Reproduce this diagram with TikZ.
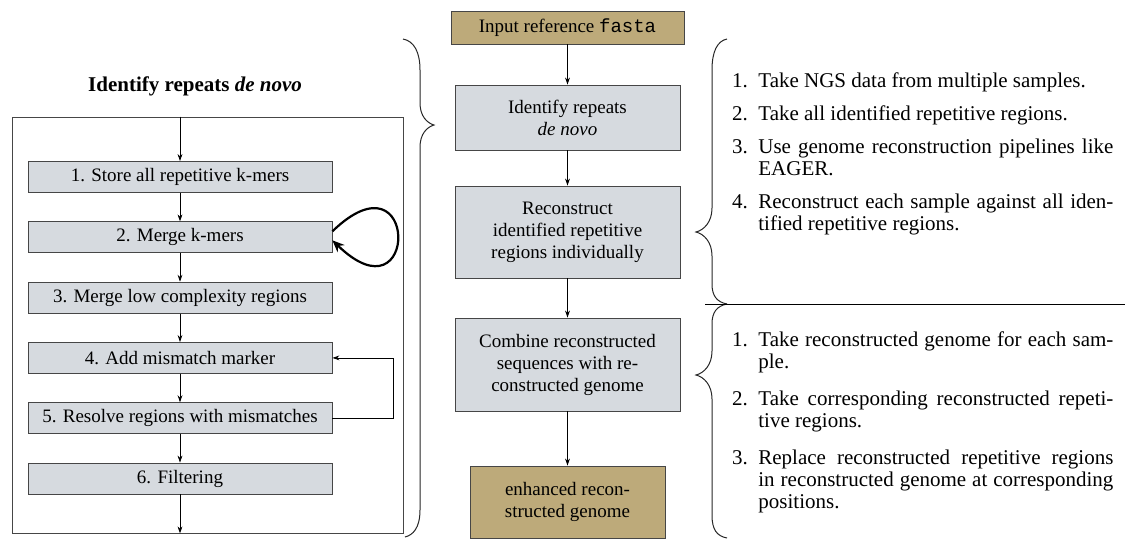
\documentclass[tikz,border=0pt]{standalone}
\usepackage{fontspec}
\setmainfont{Liberation Serif}
\setmonofont{Liberation Mono}
\usepackage{enumitem}
\usetikzlibrary{arrows.meta,calc}
\definecolor{InputClr}{RGB}{189,170,122}
\definecolor{StepClr}{RGB}{214,218,223}
\definecolor{EdgeClr}{RGB}{70,70,70}

\tikzset{
  stepbox/.style={draw=EdgeClr,fill=StepClr,align=center,inner sep=2pt,
    font=\fontsize{9.5}{11}\selectfont},
  mainbox/.style={stepbox,minimum width=112.5pt},
  inbox/.style={mainbox,fill=InputClr},
  substep/.style={stepbox,minimum width=152pt,minimum height=15.5pt},
  flow/.style={-{Stealth[length=3.5pt,width=2.4pt]}},
  brace/.style={draw=black!85,line width=0.5pt},
  steplist/.style={inner sep=0pt,text width=190.5pt,align=justify,
    font=\fontsize{10.5}{11}\selectfont},
}

\begin{document}
\begin{tikzpicture}[x=0.5pt,y=-0.5pt]
\useasboundingbox (0,0) rectangle (1125,538);

% Main pipeline in the middle.
\node[inbox,minimum width=116.5pt,minimum height=16.5pt] (input) at (567.5,27.5) {Input reference \texttt{fasta}};
\node[mainbox,minimum height=32.5pt] (ident) at (567.5,117.5) {Identify repeats\\\emph{de novo}};
\node[mainbox,minimum height=46pt] (recon) at (567.5,232) {Reconstruct\\identified repetitive\\regions individually};
\node[mainbox,minimum height=46.5pt] (comb) at (567.5,364.5) {Combine reconstructed\\sequences with re-\\constructed genome};
\node[inbox,minimum width=97.5pt,minimum height=36pt] (enh) at (567.5,502) {enhanced recon-\\structed genome};

\draw[flow] (input) -- (ident);
\draw[flow] (ident) -- (recon);
\draw[flow] (recon) -- (comb);
\draw[flow] (comb) -- (enh);

% Detail of the de novo step.
\node[font=\bfseries\fontsize{10.5}{12}\selectfont] (title) at (195,86) {Identify repeats \emph{de novo}};
\node[draw=EdgeClr,minimum width=195.5pt,minimum height=208pt] (frame) at (207.5,325) {};

\node[substep] (s1) at (180,177) {1. Store all repetitive k-mers};
\node[substep] (s2) at (180,237.3) {2. Merge k-mers};
\node[substep] (s3) at (180,297.6) {3. Merge low complexity regions};
\node[substep] (s4) at (180,357.9) {4. Add mismatch marker};
\node[substep] (s5) at (180,418.2) {5. Resolve regions with mismatches};
\node[substep] (s6) at (180,478.5) {6. Filtering};

\draw[flow] (frame.north -| s1) -- (s1);
\draw[flow] (s1) -- (s2);
\draw[flow] (s2) -- (s3);
\draw[flow] (s3) -- (s4);
\draw[flow] (s4) -- (s5);
\draw[flow] (s5) -- (s6);
\draw[flow] (s6) -- (frame.south -| s6);

% Merging is repeated, mismatches go back.
\draw[line width=1.1pt,-{Stealth[length=6pt,width=5pt]}] ([yshift=3pt]s2.east) .. controls +(87,-84) and +(87,84) .. ([yshift=-1.5pt]s2.east);
\draw[flow] (s5.east) -- ++(61,0) |- (s4.east);

% Braces.
\draw[brace] (403,39) .. controls (414,41) and (420,52) .. (420,70) -- (420,103)
  .. controls (420,116) and (427,123) .. (434,125)
  .. controls (427,127) and (420,134) .. (420,147) -- (420,510)
  .. controls (420,528) and (413,535) .. (405,537);
\draw[brace] (727,39) .. controls (717,41) and (712,52) .. (712,70) -- (712,208)
  .. controls (712,222) and (704,230) .. (696,232)
  .. controls (704,234) and (712,242) .. (712,256) -- (712,284)
  .. controls (712,296) and (717,302) .. (727,304);
\draw[brace] (727,304) .. controls (717,306) and (712,312) .. (712,324) -- (712,351)
  .. controls (712,365) and (704,373) .. (696,375)
  .. controls (704,377) and (712,385) .. (712,399) -- (712,515)
  .. controls (712,530) and (717,536) .. (727,538);

\coordinate (sepL) at (705,304);
\coordinate (sepR) at (1125,304);
\draw (sepL) -- (sepR);

% What happens in each of the two steps.
\node[steplist,anchor=north west] (reconlist) at (732,65) {%
\begin{enumerate}[leftmargin=13pt,labelsep=5.25pt,itemsep=5.5pt,parsep=0pt,topsep=0pt,partopsep=0pt]
\item Take NGS data from multiple samples.
\item Take all identified repetitive regions.
\item Use genome reconstruction pipelines like\linebreak EAGER.
\item Reconstruct each sample against all iden-\linebreak tified repetitive regions.
\end{enumerate}};
\node[steplist,anchor=north west] (comblist) at (732,324) {%
\begin{enumerate}[leftmargin=13pt,labelsep=5.25pt,itemsep=7.5pt,parsep=0pt,topsep=0pt,partopsep=0pt]
\item Take reconstructed genome for each sam-\linebreak ple.
\item Take corresponding reconstructed repeti-\linebreak tive regions.
\item Replace reconstructed repetitive regions\linebreak in reconstructed genome at corresponding\linebreak positions.
\end{enumerate}};

\end{tikzpicture}
\end{document}
